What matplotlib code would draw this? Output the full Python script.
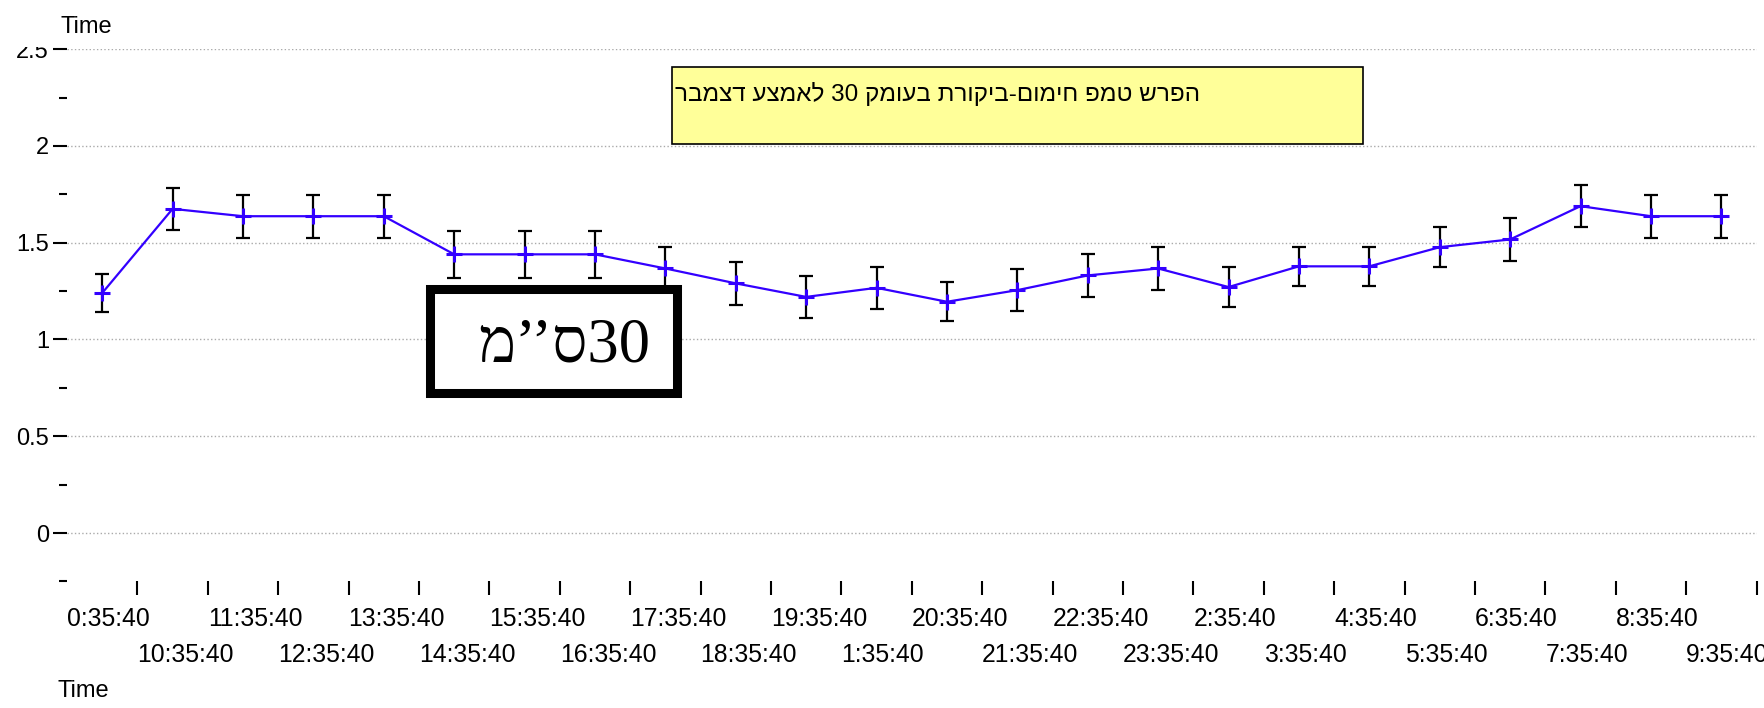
import numpy as np
import matplotlib
matplotlib.use("Agg")
import matplotlib.pyplot as plt
from matplotlib.patches import Rectangle
from matplotlib.ticker import MultipleLocator

# data
times = ["0:35:40", "10:35:40", "11:35:40", "12:35:40", "13:35:40", "14:35:40",
         "15:35:40", "16:35:40", "17:35:40", "18:35:40", "19:35:40", "1:35:40",
         "20:35:40", "21:35:40", "22:35:40", "23:35:40", "2:35:40", "3:35:40",
         "4:35:40", "5:35:40", "6:35:40", "7:35:40", "8:35:40", "9:35:40"]
means = [1.24, 1.675, 1.637, 1.637, 1.637, 1.44, 1.44, 1.44, 1.367, 1.29,
         1.22, 1.267, 1.195, 1.255, 1.331, 1.367, 1.271, 1.378, 1.378, 1.477,
         1.517, 1.689, 1.637, 1.637]
errs = [0.10, 0.11, 0.11, 0.11, 0.11, 0.12, 0.12, 0.12, 0.11, 0.11,
        0.11, 0.11, 0.10, 0.11, 0.11, 0.11, 0.105, 0.10, 0.10, 0.105,
        0.11, 0.11, 0.11, 0.11]

title = "הפרש טמפ חימום-ביקורת בעומק 30 לאמצע דצמבר"
depth_label = "30 ס’’מ"


def visual(s):
    # matplotlib has no bidi, so put the RTL text in display order
    out = []
    for w in reversed(s.split(" ")):
        out.append(w if w.isdigit() else w[::-1])
    return " ".join(out)


plt.rcParams['font.family'] = ['Liberation Sans', 'DejaVu Sans']
W, H = 1764, 708
fig = plt.figure(figsize=(W / 100, H / 100), dpi=100)
ax = fig.add_axes([67 / W, 1 - 581.4 / H, (1756.5 - 67) / W, (581.4 - 49.2) / H])

x = np.arange(len(means))
ax.errorbar(x, means, yerr=errs, fmt='none', ecolor='black', elinewidth=1.6,
            capsize=4.8, capthick=1.6, zorder=2)
ax.plot(x, means, color='#3300ff', lw=1.6, marker='+', ms=12, mew=2.2, zorder=3)

ax.set_xlim(-0.5, len(means) - 0.5)
ax.set_ylim(-0.25, 2.5)
for s in ax.spines.values():
    s.set_visible(False)

ax.yaxis.set_major_locator(MultipleLocator(0.5))
ax.yaxis.set_minor_locator(MultipleLocator(0.25))
ax.set_yticks([0, 0.5, 1, 1.5, 2, 2.5], ["0", "0.5", "1", "1.5", "2", "2.5"])
ax.tick_params(axis='y', which='major', length=10, width=1.5, pad=3, labelsize=17)
ax.tick_params(axis='y', which='minor', length=5.8, width=1.5)
ax.grid(axis='y', which='major', linestyle=':', color='#aaaaaa', lw=1)

# labels sit left aligned on each category, tick marks between categories
ax.xaxis.remove_overlapping_locs = False
ax.set_xticks(x - 0.5, times)
ax.set_xticks(x + 0.5, minor=True)
ax.tick_params(axis='x', which='major', length=0, labelsize=17.8)
ax.tick_params(axis='x', which='minor', length=10, width=1.5)
for i, t in enumerate(ax.xaxis.get_major_ticks()):
    t.set_pad(44.5 if i % 2 else 18.5)
    t.label1.set_horizontalalignment('left')

# hide the top half of the clipped "2.5" label
fig.patches.append(Rectangle((0, 1 - 46.5 / H), 66 / W, 46.5 / H, transform=fig.transFigure,
                             facecolor='white', edgecolor='none', zorder=5))
fig.text(60 / W, 1 - 33 / H, "Time", fontsize=17, zorder=6)
fig.text(58 / W, 1 - 697 / H, "Time", fontsize=17)

fig.patches.append(Rectangle((672 / W, 1 - 144 / H), 691 / W, 77 / H, transform=fig.transFigure,
                             facecolor='#ffff99', edgecolor='black', lw=1.2, zorder=4))
fig.text(675 / W, 1 - 101 / H, visual(title), fontsize=17.5, zorder=6)

fig.patches.append(Rectangle((429.5 / W, 1 - 392.7 / H), 247.5 / W, 103.2 / H,
                             transform=fig.transFigure, facecolor='white',
                             edgecolor='black', lw=6.5, zorder=4))
fig.text(564 / W, 1 - 362 / H, visual(depth_label).replace(" ", ""), fontsize=45, ha='center',
         family=['Liberation Serif', 'DejaVu Sans'], zorder=6)

fig.savefig("out.png", dpi=100)
